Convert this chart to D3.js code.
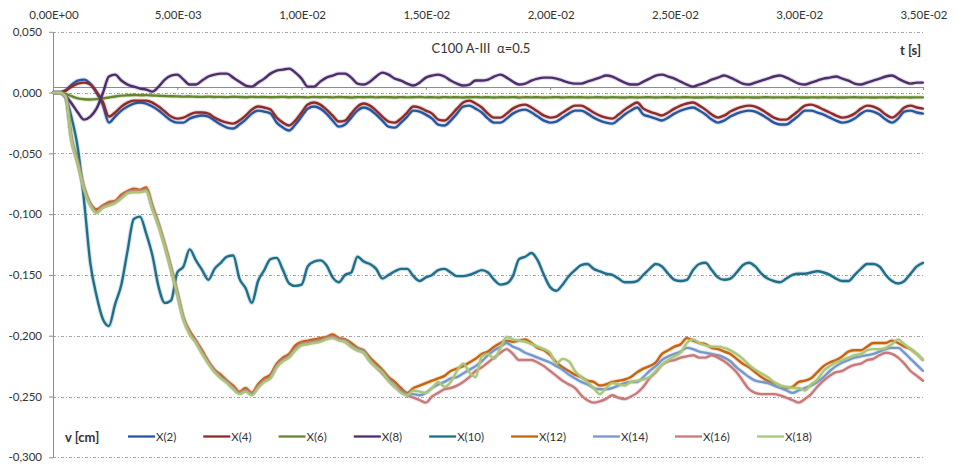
<!DOCTYPE html>
<html>
<head>
<meta charset="utf-8">
<script src="https://cdn.jsdelivr.net/npm/d3@7"></script>
<style>
  body { margin: 0; background: #fff; }
  svg { display: block; }
  text { font-family: Lato, "Open Sans", "Liberation Sans", sans-serif; fill: #333; }
</style>
</head>
<body>
<svg id="chart" width="956" height="466"></svg>
<script>
// sampling step of every series [s]
const dt = 0.00025;

const timeTicks = [0, 0.005, 0.010, 0.015, 0.020, 0.025, 0.030, 0.035];
const timeTickLabels = ["0,00E+00", "5,00E-03", "1,00E-02", "1,50E-02", "2,00E-02", "2,50E-02", "3,00E-02", "3,50E-02"];
const vTicks = [0.05, 0, -0.05, -0.10, -0.15, -0.20, -0.25, -0.30];
const vTickLabels = ["0,050", "0,000", "-0,050", "-0,100", "-0,150", "-0,200", "-0,250", "-0,300"];

const seriesNames = ["X(2)", "X(4)", "X(6)", "X(8)", "X(10)", "X(12)", "X(14)", "X(16)", "X(18)"];
const seriesColors = ["#2756A0", "#8E2A2A", "#66872E", "#4E2D6C", "#1F6F8B", "#C8620F", "#7598CC", "#C8797A", "#A9C77A"];

// displacement v [cm] of each node, one value per time step
const X2 = [
0,0,0.0016,0.0066,0.0099,0.0107,0.0074,0,-0.0099,-0.0247,
-0.0197,-0.0148,-0.0115,-0.0090,-0.0082,-0.0090,-0.0115,-0.0148,-0.0189,-0.0230,
-0.0247,-0.0247,-0.0214,-0.0197,-0.0189,-0.0197,-0.0230,-0.0263,-0.0288,-0.0296,
-0.0263,-0.0222,-0.0173,-0.0148,-0.0156,-0.0173,-0.0247,-0.0288,-0.0312,-0.0263,
-0.0197,-0.0132,-0.0115,-0.0132,-0.0173,-0.0230,-0.0280,-0.0263,-0.0206,-0.0148,
-0.0123,-0.0140,-0.0181,-0.0230,-0.0280,-0.0288,-0.0247,-0.0197,-0.0148,-0.0156,
-0.0181,-0.0214,-0.0263,-0.0271,-0.0230,-0.0173,-0.0115,-0.0107,-0.0132,-0.0164,
-0.0214,-0.0247,-0.0247,-0.0214,-0.0173,-0.0148,-0.0140,-0.0164,-0.0197,-0.0230,
-0.0247,-0.0238,-0.0206,-0.0173,-0.0148,-0.0148,-0.0173,-0.0206,-0.0230,-0.0247,
-0.0255,-0.0222,-0.0181,-0.0148,-0.0123,-0.0181,-0.0197,-0.0214,-0.0230,-0.0206,
-0.0173,-0.0148,-0.0132,-0.0123,-0.0148,-0.0181,-0.0222,-0.0247,-0.0230,-0.0197,
-0.0173,-0.0156,-0.0148,-0.0156,-0.0181,-0.0214,-0.0247,-0.0263,-0.0263,-0.0230,
-0.0189,-0.0148,-0.0148,-0.0164,-0.0181,-0.0206,-0.0230,-0.0247,-0.0238,-0.0214,
-0.0173,-0.0148,-0.0156,-0.0181,-0.0222,-0.0247,-0.0214,-0.0156,-0.0148,-0.0164,
-0.0173];

const X4 = [
0,0,0.0016,0.0049,0.0074,0.0082,0.0066,0.0008,-0.0074,-0.0197,
-0.0164,-0.0115,-0.0082,-0.0066,-0.0066,-0.0066,-0.0082,-0.0115,-0.0156,-0.0197,
-0.0214,-0.0206,-0.0181,-0.0164,-0.0164,-0.0173,-0.0206,-0.0230,-0.0247,-0.0255,
-0.0230,-0.0189,-0.0140,-0.0115,-0.0123,-0.0140,-0.0206,-0.0247,-0.0271,-0.0230,
-0.0164,-0.0099,-0.0082,-0.0099,-0.0140,-0.0189,-0.0238,-0.0230,-0.0173,-0.0115,
-0.0090,-0.0107,-0.0148,-0.0197,-0.0238,-0.0247,-0.0214,-0.0164,-0.0115,-0.0123,
-0.0148,-0.0173,-0.0222,-0.0230,-0.0189,-0.0132,-0.0082,-0.0066,-0.0090,-0.0123,
-0.0173,-0.0206,-0.0206,-0.0173,-0.0132,-0.0107,-0.0099,-0.0123,-0.0156,-0.0189,
-0.0206,-0.0197,-0.0164,-0.0132,-0.0107,-0.0107,-0.0132,-0.0164,-0.0189,-0.0206,
-0.0214,-0.0181,-0.0140,-0.0107,-0.0082,-0.0132,-0.0156,-0.0173,-0.0189,-0.0164,
-0.0132,-0.0107,-0.0090,-0.0082,-0.0107,-0.0140,-0.0181,-0.0206,-0.0189,-0.0156,
-0.0132,-0.0115,-0.0107,-0.0115,-0.0140,-0.0173,-0.0206,-0.0222,-0.0222,-0.0189,
-0.0148,-0.0107,-0.0099,-0.0115,-0.0140,-0.0164,-0.0189,-0.0206,-0.0197,-0.0173,
-0.0132,-0.0107,-0.0115,-0.0140,-0.0181,-0.0206,-0.0173,-0.0123,-0.0107,-0.0123,
-0.0132];

const X6 = [
0,0,-0.0010,-0.0030,-0.0048,-0.0055,-0.0057,-0.0054,-0.0048,-0.0040,
-0.0032,-0.0025,-0.0022,-0.0020,-0.0022,-0.0021,-0.0024,-0.0026,-0.0028,-0.0030,
-0.0031,-0.0033,-0.0032,-0.0034,-0.0035,-0.0033,-0.0036,-0.0035,-0.0037,-0.0034,
-0.0036,-0.0038,-0.0035,-0.0037,-0.0036,-0.0038,-0.0037,-0.0035,-0.0038,-0.0036,
-0.0037,-0.0039,-0.0036,-0.0038,-0.0037,-0.0039,-0.0036,-0.0038,-0.0040,-0.0037,
-0.0038,-0.0036,-0.0039,-0.0037,-0.0038,-0.0040,-0.0037,-0.0039,-0.0038,-0.0036,
-0.0039,-0.0038,-0.0040,-0.0037,-0.0039,-0.0038,-0.0040,-0.0038,-0.0037,-0.0039,
-0.0038,-0.0040,-0.0038,-0.0039,-0.0037,-0.0040,-0.0038,-0.0039,-0.0038,-0.0040,
-0.0039,-0.0037,-0.0040,-0.0038,-0.0039,-0.0038,-0.0040,-0.0039,-0.0038,-0.0040,
-0.0038,-0.0039,-0.0041,-0.0038,-0.0040,-0.0039,-0.0038,-0.0040,-0.0039,-0.0038,
-0.0040,-0.0039,-0.0038,-0.0040,-0.0041,-0.0039,-0.0038,-0.0040,-0.0039,-0.0040,
-0.0038,-0.0040,-0.0039,-0.0041,-0.0039,-0.0038,-0.0040,-0.0039,-0.0040,-0.0038,
-0.0039,-0.0041,-0.0039,-0.0040,-0.0038,-0.0040,-0.0039,-0.0041,-0.0039,-0.0038,
-0.0040,-0.0039,-0.0041,-0.0039,-0.0040,-0.0038,-0.0040,-0.0039,-0.0040,-0.0039,
-0.0039];

const X8 = [
0,0,-0.0025,-0.0090,-0.0164,-0.0222,-0.0197,-0.0132,-0.0008,0.0132,
0.0148,0.0099,0.0066,0.0049,0.0033,0.0025,0.0008,0.0049,0.0107,0.0140,
0.0148,0.0107,0.0066,0.0066,0.0099,0.0132,0.0148,0.0156,0.0156,0.0123,
0.0090,0.0058,0.0049,0.0082,0.0115,0.0156,0.0181,0.0189,0.0197,0.0164,
0.0115,0.0049,0.0049,0.0090,0.0123,0.0140,0.0156,0.0156,0.0123,0.0074,
0.0066,0.0090,0.0132,0.0164,0.0148,0.0115,0.0099,0.0074,0.0058,0.0082,
0.0123,0.0140,0.0148,0.0132,0.0099,0.0074,0.0058,0.0066,0.0099,0.0099,
0.0107,0.0132,0.0148,0.0123,0.0090,0.0066,0.0074,0.0099,0.0115,0.0123,
0.0123,0.0115,0.0099,0.0082,0.0074,0.0074,0.0090,0.0107,0.0123,0.0140,
0.0132,0.0107,0.0082,0.0066,0.0066,0.0090,0.0115,0.0140,0.0148,0.0132,
0.0115,0.0090,0.0066,0.0049,0.0066,0.0082,0.0107,0.0123,0.0140,0.0123,
0.0099,0.0074,0.0066,0.0082,0.0099,0.0115,0.0132,0.0140,0.0123,0.0099,
0.0074,0.0066,0.0082,0.0099,0.0115,0.0123,0.0132,0.0115,0.0099,0.0074,
0.0066,0.0082,0.0099,0.0115,0.0132,0.0140,0.0115,0.0090,0.0074,0.0082,
0.0082];

const X10 = [
0,0,-0.004,-0.021,-0.046,-0.089,-0.140,-0.167,-0.186,-0.192,
-0.174,-0.158,-0.130,-0.104,-0.102,-0.116,-0.134,-0.160,-0.173,-0.171,
-0.148,-0.143,-0.129,-0.138,-0.146,-0.154,-0.145,-0.140,-0.135,-0.134,
-0.153,-0.161,-0.173,-0.155,-0.146,-0.137,-0.136,-0.146,-0.157,-0.159,
-0.158,-0.143,-0.139,-0.138,-0.142,-0.152,-0.156,-0.150,-0.148,-0.135,
-0.139,-0.141,-0.145,-0.153,-0.150,-0.147,-0.145,-0.145,-0.151,-0.155,
-0.152,-0.150,-0.146,-0.145,-0.148,-0.151,-0.151,-0.150,-0.148,-0.146,
-0.148,-0.154,-0.158,-0.157,-0.151,-0.137,-0.135,-0.132,-0.138,-0.150,
-0.160,-0.163,-0.158,-0.151,-0.146,-0.142,-0.141,-0.145,-0.147,-0.149,
-0.150,-0.153,-0.156,-0.156,-0.155,-0.150,-0.145,-0.141,-0.143,-0.149,
-0.154,-0.155,-0.154,-0.146,-0.141,-0.140,-0.146,-0.152,-0.154,-0.153,
-0.148,-0.142,-0.140,-0.143,-0.149,-0.153,-0.155,-0.156,-0.153,-0.150,
-0.149,-0.149,-0.148,-0.147,-0.148,-0.150,-0.153,-0.155,-0.155,-0.150,
-0.145,-0.141,-0.141,-0.143,-0.150,-0.155,-0.157,-0.155,-0.149,-0.143,
-0.140];

const X12 = [
0,0,-0.003,-0.038,-0.057,-0.078,-0.091,-0.096,-0.093,-0.090,
-0.089,-0.084,-0.081,-0.079,-0.080,-0.078,-0.093,-0.108,-0.125,-0.144,
-0.164,-0.185,-0.196,-0.204,-0.212,-0.221,-0.228,-0.232,-0.237,-0.241,
-0.246,-0.243,-0.247,-0.240,-0.235,-0.232,-0.223,-0.218,-0.215,-0.208,
-0.205,-0.204,-0.203,-0.202,-0.201,-0.199,-0.202,-0.203,-0.206,-0.210,
-0.212,-0.218,-0.223,-0.228,-0.234,-0.238,-0.243,-0.247,-0.243,-0.241,
-0.239,-0.237,-0.235,-0.233,-0.229,-0.227,-0.225,-0.222,-0.219,-0.215,
-0.213,-0.209,-0.206,-0.204,-0.205,-0.204,-0.203,-0.206,-0.210,-0.212,
-0.216,-0.222,-0.226,-0.229,-0.232,-0.234,-0.237,-0.238,-0.241,-0.240,
-0.238,-0.237,-0.236,-0.234,-0.230,-0.227,-0.225,-0.222,-0.215,-0.212,
-0.209,-0.207,-0.202,-0.204,-0.206,-0.207,-0.210,-0.211,-0.213,-0.215,
-0.219,-0.223,-0.226,-0.230,-0.234,-0.237,-0.239,-0.241,-0.243,-0.242,
-0.238,-0.237,-0.235,-0.230,-0.225,-0.222,-0.220,-0.217,-0.213,-0.212,
-0.212,-0.209,-0.206,-0.206,-0.206,-0.204,-0.206,-0.209,-0.211,-0.215,
-0.220];

const X14 = [
0,0,-0.003,-0.039,-0.058,-0.079,-0.092,-0.098,-0.094,-0.092,
-0.090,-0.086,-0.082,-0.081,-0.081,-0.080,-0.095,-0.109,-0.126,-0.145,
-0.165,-0.186,-0.198,-0.205,-0.214,-0.222,-0.229,-0.234,-0.238,-0.243,
-0.247,-0.245,-0.248,-0.242,-0.237,-0.234,-0.225,-0.220,-0.217,-0.211,
-0.207,-0.206,-0.205,-0.204,-0.202,-0.201,-0.203,-0.204,-0.208,-0.211,
-0.213,-0.220,-0.225,-0.230,-0.236,-0.241,-0.245,-0.248,-0.248,-0.249,
-0.247,-0.243,-0.240,-0.238,-0.235,-0.234,-0.231,-0.228,-0.225,-0.221,
-0.216,-0.212,-0.209,-0.206,-0.209,-0.211,-0.214,-0.216,-0.218,-0.220,
-0.222,-0.225,-0.228,-0.232,-0.235,-0.238,-0.240,-0.243,-0.244,-0.244,
-0.243,-0.241,-0.239,-0.238,-0.238,-0.234,-0.229,-0.225,-0.220,-0.217,
-0.215,-0.213,-0.210,-0.211,-0.213,-0.214,-0.215,-0.216,-0.218,-0.221,
-0.226,-0.230,-0.234,-0.237,-0.238,-0.239,-0.241,-0.243,-0.245,-0.247,
-0.245,-0.243,-0.241,-0.238,-0.234,-0.229,-0.225,-0.222,-0.220,-0.218,
-0.217,-0.216,-0.215,-0.213,-0.211,-0.210,-0.210,-0.214,-0.219,-0.224,
-0.229];

const X16 = [
0,0,-0.003,-0.039,-0.058,-0.079,-0.092,-0.098,-0.094,-0.092,
-0.090,-0.086,-0.082,-0.081,-0.081,-0.080,-0.095,-0.109,-0.126,-0.145,
-0.165,-0.186,-0.198,-0.205,-0.214,-0.222,-0.229,-0.234,-0.238,-0.243,
-0.247,-0.245,-0.248,-0.242,-0.237,-0.234,-0.225,-0.220,-0.217,-0.211,
-0.207,-0.206,-0.205,-0.204,-0.202,-0.201,-0.203,-0.205,-0.209,-0.212,
-0.214,-0.221,-0.226,-0.231,-0.237,-0.242,-0.246,-0.249,-0.251,-0.253,
-0.255,-0.250,-0.247,-0.244,-0.243,-0.241,-0.238,-0.234,-0.229,-0.226,
-0.222,-0.218,-0.214,-0.211,-0.215,-0.220,-0.220,-0.220,-0.222,-0.225,
-0.229,-0.233,-0.237,-0.240,-0.243,-0.249,-0.253,-0.255,-0.254,-0.252,
-0.249,-0.251,-0.252,-0.250,-0.247,-0.242,-0.235,-0.230,-0.224,-0.221,
-0.220,-0.218,-0.217,-0.216,-0.218,-0.218,-0.216,-0.218,-0.221,-0.225,
-0.230,-0.237,-0.244,-0.247,-0.248,-0.248,-0.248,-0.249,-0.251,-0.253,
-0.255,-0.252,-0.248,-0.242,-0.237,-0.233,-0.230,-0.229,-0.226,-0.224,
-0.223,-0.220,-0.219,-0.216,-0.214,-0.215,-0.218,-0.223,-0.229,-0.233,
-0.237];

const X18 = [
0,0,-0.003,-0.040,-0.059,-0.080,-0.093,-0.099,-0.095,-0.093,
-0.091,-0.087,-0.083,-0.082,-0.082,-0.081,-0.096,-0.110,-0.127,-0.146,
-0.166,-0.187,-0.199,-0.206,-0.215,-0.223,-0.230,-0.235,-0.239,-0.244,
-0.248,-0.246,-0.249,-0.243,-0.238,-0.235,-0.226,-0.221,-0.218,-0.212,
-0.208,-0.207,-0.206,-0.205,-0.203,-0.202,-0.204,-0.205,-0.209,-0.212,
-0.214,-0.221,-0.226,-0.230,-0.237,-0.242,-0.247,-0.249,-0.245,-0.246,
-0.247,-0.243,-0.238,-0.242,-0.238,-0.229,-0.223,-0.230,-0.234,-0.217,
-0.215,-0.219,-0.210,-0.201,-0.203,-0.204,-0.205,-0.207,-0.209,-0.211,
-0.214,-0.223,-0.219,-0.221,-0.229,-0.234,-0.238,-0.243,-0.248,-0.243,
-0.239,-0.240,-0.241,-0.238,-0.237,-0.236,-0.234,-0.229,-0.224,-0.220,
-0.217,-0.214,-0.206,-0.203,-0.206,-0.208,-0.209,-0.209,-0.210,-0.212,
-0.215,-0.219,-0.224,-0.228,-0.231,-0.234,-0.238,-0.241,-0.242,-0.243,
-0.243,-0.245,-0.240,-0.236,-0.229,-0.225,-0.222,-0.220,-0.218,-0.216,
-0.215,-0.212,-0.211,-0.211,-0.210,-0.207,-0.203,-0.207,-0.211,-0.215,
-0.220];

const seriesValues = [X2, X4, X6, X8, X10, X12, X14, X16, X18];

const svg = d3.select("#chart");
const x = d3.scaleLinear().domain([0, 0.035]).range([53, 923]);
const y = d3.scaleLinear().domain([-0.30, 0.05]).range([457.3, 31.8]);
const snap = v => Math.round(v) + 0.5;

// dash-dot horizontal gridlines
svg.append("g")
  .selectAll("line")
  .data(vTicks)
  .join("line")
  .attr("x1", x(0)).attr("x2", x(0.035))
  .attr("y1", d => snap(y(d))).attr("y2", d => snap(y(d)))
  .attr("stroke", "#a6a6a6")
  .attr("stroke-width", 1)
  .attr("stroke-dasharray", "3,2,1,2");

// vertical value axis
const yAxis = d3.axisLeft(y)
  .tickValues(vTicks)
  .tickSize(4)
  .tickSizeOuter(0)
  .tickPadding(7)
  .tickFormat((d, i) => vTickLabels[i]);
const gy = svg.append("g").attr("transform", `translate(${snap(x(0)) - 0.5},0)`).call(yAxis);
gy.select(".domain").attr("stroke", "#8c8c8c");
gy.selectAll(".tick line").attr("stroke", "#8c8c8c");
gy.selectAll(".tick text").attr("font-size", 11.5).attr("fill", "#404040")
  .style("font-family", "Lato, 'Open Sans', sans-serif");

// horizontal time axis, crossing slightly above zero
const xAxis = d3.axisBottom(x)
  .tickValues(timeTicks)
  .tickSize(3)
  .tickSizeOuter(0)
  .tickFormat("");
const gx = svg.append("g").attr("transform", `translate(0,${snap(y(0.005)) - 0.5})`).call(xAxis);
gx.select(".domain").attr("stroke", "#8c8c8c");
gx.selectAll(".tick line").attr("stroke", "#8c8c8c");

// time labels along the top
svg.append("g")
  .selectAll("text")
  .data(timeTicks)
  .join("text")
  .attr("x", d => x(d) + 1)
  .attr("y", 19)
  .attr("text-anchor", "middle")
  .attr("font-size", 11.5)
  .attr("fill", "#404040")
  .text((d, i) => timeTickLabels[i]);

// series lines, slightly rounded between samples
const line = d3.line()
  .x((d, i) => x(i * dt))
  .y(d => y(d))
  .curve(d3.curveMonotoneX);

const gLines = svg.append("g");
seriesValues.forEach((vals, k) => {
  gLines.append("path")
    .datum(vals)
    .attr("fill", "none")
    .attr("stroke", seriesColors[k])
    .attr("stroke-opacity", 0.2)
    .attr("stroke-width", 4.4)
    .attr("stroke-linejoin", "round")
    .attr("d", line);
  gLines.append("path")
    .datum(vals)
    .attr("fill", "none")
    .attr("stroke", seriesColors[k])
    .attr("stroke-width", 2.4)
    .attr("stroke-linejoin", "round")
    .attr("stroke-linecap", "round")
    .attr("d", line);
});

// chart caption and axis titles
svg.append("text")
  .attr("x", 481).attr("y", 53)
  .attr("text-anchor", "middle")
  .attr("font-size", 13)
  .style("white-space", "pre")
  .attr("fill", "#222")
  .text("C100 A-III  \u03b1=0.5");

svg.append("text")
  .attr("x", 921).attr("y", 55)
  .attr("text-anchor", "end")
  .attr("font-size", 13)
  .attr("font-weight", "bold")
  .attr("fill", "#222")
  .text("t [s]");

svg.append("text")
  .attr("x", 65).attr("y", 442)
  .attr("font-size", 13)
  .attr("font-weight", "bold")
  .attr("fill", "#222")
  .text("v [cm]");

// legend
const legend = svg.append("g");
let lx = 128;
seriesNames.forEach((name, k) => {
  legend.append("line")
    .attr("x1", lx).attr("x2", lx + 27)
    .attr("y1", 436.5).attr("y2", 436.5)
    .attr("stroke", seriesColors[k])
    .attr("stroke-width", 2.3);
  const t = legend.append("text")
    .attr("x", lx + 28).attr("y", 440.5)
    .attr("font-size", 11.5)
    .attr("fill", "#404040")
    .text(name);
  lx += 28 + t.node().getComputedTextLength() + 27;
});
</script>
</body>
</html>
